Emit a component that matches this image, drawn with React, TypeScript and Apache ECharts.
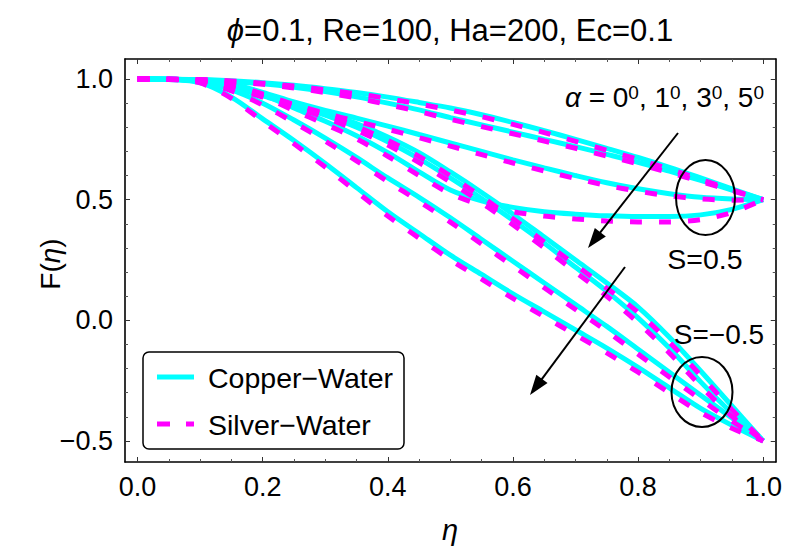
import React, { useEffect, useRef } from "react";
import * as echarts from "echarts";

// η grid
const eta = [0, 0.05, 0.1, 0.15, 0.2, 0.25, 0.3, 0.35, 0.4, 0.45, 0.5, 0.55, 0.6, 0.65, 0.7, 0.75, 0.8, 0.85, 0.9, 0.95, 1.0];

// Copper–Water (solid cyan), S = 0.5, α = 0°, 1°, 3°, 5°
const cuS05a0 = [1, 0.9995, 0.998, 0.993, 0.985, 0.974, 0.96, 0.944, 0.925, 0.903, 0.88, 0.852, 0.82, 0.786, 0.75, 0.713, 0.675, 0.634, 0.59, 0.545, 0.5];
const cuS05a1 = [1, 0.9995, 0.997, 0.99, 0.98, 0.966, 0.948, 0.926, 0.9, 0.872, 0.84, 0.81, 0.78, 0.75, 0.72, 0.688, 0.655, 0.618, 0.58, 0.54, 0.5];
const cuS05a3 = [1, 0.999, 0.995, 0.98, 0.945, 0.905, 0.87, 0.838, 0.805, 0.77, 0.735, 0.7, 0.665, 0.632, 0.6, 0.57, 0.545, 0.525, 0.51, 0.503, 0.5];
const cuS05a5 = [1, 0.999, 0.993, 0.975, 0.935, 0.88, 0.825, 0.765, 0.695, 0.615, 0.54, 0.495, 0.468, 0.45, 0.44, 0.433, 0.43, 0.43, 0.437, 0.46, 0.5];
// Copper–Water, S = -0.5
const cuSm05a0 = [1, 0.999, 0.993, 0.97, 0.935, 0.9, 0.862, 0.815, 0.76, 0.695, 0.615, 0.53, 0.44, 0.345, 0.25, 0.155, 0.055, -0.07, -0.21, -0.355, -0.5];
const cuSm05a1 = [1, 0.999, 0.992, 0.967, 0.93, 0.893, 0.85, 0.8, 0.74, 0.67, 0.59, 0.505, 0.415, 0.32, 0.22, 0.12, 0.01, -0.115, -0.255, -0.385, -0.5];
const cuSm05a3 = [1, 0.999, 0.99, 0.955, 0.9, 0.83, 0.755, 0.675, 0.59, 0.51, 0.425, 0.335, 0.245, 0.155, 0.065, -0.025, -0.12, -0.215, -0.31, -0.405, -0.5];
const cuSm05a5 = [1, 0.998, 0.985, 0.925, 0.835, 0.745, 0.65, 0.55, 0.45, 0.36, 0.27, 0.19, 0.11, 0.035, -0.04, -0.115, -0.195, -0.28, -0.365, -0.435, -0.5];

// Silver–Water (dashed magenta), S = 0.5
const agS05a0 = [1, 0.9995, 0.998, 0.992, 0.983, 0.971, 0.956, 0.939, 0.919, 0.896, 0.872, 0.844, 0.812, 0.778, 0.742, 0.705, 0.667, 0.627, 0.584, 0.541, 0.5];
const agS05a1 = [1, 0.9995, 0.997, 0.989, 0.978, 0.963, 0.944, 0.921, 0.894, 0.865, 0.833, 0.803, 0.773, 0.743, 0.713, 0.681, 0.648, 0.612, 0.575, 0.537, 0.5];
const agS05a3 = [1, 0.999, 0.994, 0.977, 0.938, 0.895, 0.858, 0.825, 0.792, 0.757, 0.722, 0.687, 0.652, 0.619, 0.588, 0.559, 0.535, 0.516, 0.503, 0.498, 0.5];
const agS05a5 = [1, 0.999, 0.992, 0.972, 0.928, 0.87, 0.813, 0.752, 0.68, 0.6, 0.525, 0.478, 0.45, 0.432, 0.42, 0.412, 0.408, 0.408, 0.417, 0.447, 0.5];
// Silver–Water, S = -0.5
const agSm05a0 = [1, 0.999, 0.992, 0.967, 0.93, 0.892, 0.852, 0.803, 0.746, 0.679, 0.598, 0.512, 0.421, 0.325, 0.229, 0.133, 0.033, -0.09, -0.228, -0.37, -0.5];
const agSm05a1 = [1, 0.999, 0.991, 0.964, 0.925, 0.885, 0.84, 0.788, 0.726, 0.654, 0.573, 0.487, 0.396, 0.3, 0.2, 0.1, -0.01, -0.135, -0.272, -0.398, -0.5];
const agSm05a3 = [1, 0.999, 0.989, 0.951, 0.892, 0.82, 0.743, 0.661, 0.575, 0.493, 0.407, 0.316, 0.225, 0.135, 0.045, -0.045, -0.14, -0.235, -0.328, -0.418, -0.5];
const agSm05a5 = [1, 0.998, 0.984, 0.92, 0.825, 0.732, 0.635, 0.533, 0.432, 0.341, 0.251, 0.171, 0.091, 0.015, -0.06, -0.135, -0.215, -0.3, -0.382, -0.447, -0.5];

const copperCurves = [cuS05a0, cuS05a1, cuS05a3, cuS05a5, cuSm05a0, cuSm05a1, cuSm05a3, cuSm05a5];
const silverCurves = [agS05a0, agS05a1, agS05a3, agS05a5, agSm05a0, agSm05a1, agSm05a3, agSm05a5];

const seriesNames = ["Copper\u2212Water", "Silver\u2212Water"];

// ticks
const xMajorTicks = [0, 0.2, 0.4, 0.6, 0.8, 1.0];
const xMinorTicks = [0.05, 0.1, 0.15, 0.25, 0.3, 0.35, 0.45, 0.5, 0.55, 0.65, 0.7, 0.75, 0.85, 0.9, 0.95];
const yMajorTicks = [-0.5, 0, 0.5, 1.0];
const yMinorTicks = [-0.4, -0.3, -0.2, -0.1, 0.1, 0.2, 0.3, 0.4, 0.6, 0.7, 0.8, 0.9];

const XMIN = -0.02, XMAX = 1.02, YMIN = -0.587, YMAX = 1.083;

const FONT = "'Liberation Sans', Arial, sans-serif";
const CYAN = "#00FFFF";
const MAGENTA = "#FF00FF";

function fmt(v: number) {
  return v.toFixed(1).replace("-", "\u2212");
}

function arrow(x1: number, y1: number, x2: number, y2: number) {
  const dx = x2 - x1, dy = y2 - y1;
  const L = Math.sqrt(dx * dx + dy * dy);
  const ux = dx / L, uy = dy / L;
  const hl = 20, hw = 7;
  const bx = x2 - ux * hl, by = y2 - uy * hl;
  const px = -uy, py = ux;
  return [
    { type: "line", z: 100, shape: { x1, y1, x2: bx + ux * 2, y2: by + uy * 2 }, style: { stroke: "#000", lineWidth: 2 } },
    {
      type: "polygon", z: 100,
      shape: { points: [[x2, y2], [bx + px * hw, by + py * hw], [bx - px * hw, by - py * hw]] },
      style: { fill: "#000" },
    },
  ];
}

export default function App() {
  const ref = useRef<HTMLDivElement>(null);
  useEffect(() => {
    if (!ref.current) return;
    const chart = echarts.init(ref.current, null, { renderer: "svg" });
    const grid = { left: 125, top: 59, width: 651, height: 403 };
    const baseX = { type: "value", min: XMIN, max: XMAX, gridIndex: 0, splitLine: { show: false } };
    const baseY = { type: "value", min: YMIN, max: YMAX, gridIndex: 0, splitLine: { show: false } };
    const axisLine = { show: true, onZero: false, lineStyle: { color: "#000", width: 1.6 } };
    const noLine = { show: false, onZero: false };

    const series: any[] = [];
    copperCurves.forEach((c) => {
      series.push({
        type: "line", name: seriesNames[0], data: eta.map((x, i) => [x, c[i]]),
        symbol: "none", smooth: 0.3, silent: true, z: 2,
        lineStyle: { color: CYAN, width: 5 },
      });
    });
    silverCurves.forEach((c) => {
      series.push({
        type: "line", name: seriesNames[1], data: eta.map((x, i) => [x, c[i]]),
        symbol: "none", smooth: 0.3, silent: true, z: 3,
        lineStyle: { color: MAGENTA, width: 5, type: [12, 17], cap: "butt" },
      });
    });

    const textStyle = (extra: any) => ({ fill: "#000", fontFamily: FONT, ...extra });

    const graphic: any[] = [
      // title
      {
        type: "text", x: 450, y: 30, z: 100,
        style: textStyle({
          text: "{i|\u03D5}=0.1, Re=100, Ha=200, Ec=0.1", fontSize: 31, align: "center", verticalAlign: "middle",
          rich: { i: { fontStyle: "italic", fontSize: 31, fontFamily: FONT } },
        }),
      },
      // y axis name
      {
        type: "text", x: 50, y: 264, rotation: Math.PI / 2, z: 100,
        style: textStyle({
          text: "F({i|\u03B7})", fontSize: 28, align: "center", verticalAlign: "middle",
          rich: { i: { fontStyle: "italic", fontSize: 28, fontFamily: FONT } },
        }),
      },
      // x axis name
      {
        type: "text", x: 450, y: 530, z: 100,
        style: textStyle({ text: "\u03B7", fontSize: 29, fontStyle: "italic", align: "center", verticalAlign: "middle" }),
      },
      // alpha annotation
      {
        type: "text", x: 764, y: 97, z: 100,
        style: textStyle({
          text: "{a|\u03B1} = 0{s|0}, 1{s|0}, 3{s|0}, 5{s|0}", fontSize: 28, align: "right", verticalAlign: "middle",
          rich: {
            a: { fontStyle: "italic", fontSize: 28, fontFamily: FONT },
            s: { fontSize: 19, verticalAlign: "top", fontFamily: FONT },
          },
        }),
      },
      { type: "text", x: 705, y: 259, z: 100, style: textStyle({ text: "S=0.5", fontSize: 28.5, align: "center", verticalAlign: "middle" }) },
      { type: "text", x: 719, y: 334, z: 100, style: textStyle({ text: "S=\u22120.5", fontSize: 28, align: "center", verticalAlign: "middle" }) },
      // ellipses
      { type: "ellipse", z: 100, shape: { cx: 705.5, cy: 197.5, rx: 29.5, ry: 37.5 }, style: { fill: "none", stroke: "#000", lineWidth: 2 } },
      { type: "ellipse", z: 100, shape: { cx: 702, cy: 392, rx: 30.5, ry: 35 }, style: { fill: "none", stroke: "#000", lineWidth: 2 } },
      ...arrow(678, 133, 588, 248),
      ...arrow(625, 267, 530, 395),
      // legend
      { type: "rect", z: 100, shape: { x: 143, y: 352, width: 261, height: 97, r: 6 }, style: { fill: "#fff", stroke: "#000", lineWidth: 1.5 } },
      { type: "line", z: 101, shape: { x1: 157, y1: 377, x2: 194, y2: 377 }, style: { stroke: CYAN, lineWidth: 5 } },
      { type: "line", z: 101, shape: { x1: 157, y1: 424, x2: 194, y2: 424 }, style: { stroke: MAGENTA, lineWidth: 5, lineDash: [13, 16] } },
      { type: "text", x: 208, y: 378, z: 101, style: textStyle({ text: seriesNames[0], fontSize: 28.5, align: "left", verticalAlign: "middle" }) },
      { type: "text", x: 208, y: 425, z: 101, style: textStyle({ text: seriesNames[1], fontSize: 28.5, align: "left", verticalAlign: "middle" }) },
    ];

    chart.setOption({
      animation: false,
      backgroundColor: "#fff",
      grid,
      xAxis: [
        {
          ...baseX, position: "bottom", axisLine,
          axisTick: { show: true, inside: true, length: 5, customValues: xMajorTicks, lineStyle: { color: "#333", width: 1 } },
          axisLabel: { show: true, customValues: xMajorTicks, formatter: (v: number) => fmt(v), fontSize: 27, fontFamily: FONT, color: "#000", margin: 11 },
        },
        {
          ...baseX, position: "bottom", axisLine: noLine,
          axisTick: { show: true, inside: true, length: 3, customValues: xMinorTicks, lineStyle: { color: "#555", width: 1 } },
          axisLabel: { show: false },
        },
        {
          ...baseX, position: "top", axisLine,
          axisTick: { show: true, inside: true, length: 5, customValues: xMajorTicks, lineStyle: { color: "#333", width: 1 } },
          axisLabel: { show: false },
        },
        {
          ...baseX, position: "top", axisLine: noLine,
          axisTick: { show: true, inside: true, length: 3, customValues: xMinorTicks, lineStyle: { color: "#555", width: 1 } },
          axisLabel: { show: false },
        },
      ],
      yAxis: [
        {
          ...baseY, position: "left", axisLine,
          axisTick: { show: true, inside: true, length: 5, customValues: yMajorTicks, lineStyle: { color: "#333", width: 1 } },
          axisLabel: { show: true, customValues: yMajorTicks, formatter: (v: number) => fmt(v), fontSize: 27, fontFamily: FONT, color: "#000", margin: 12 },
        },
        {
          ...baseY, position: "left", axisLine: noLine,
          axisTick: { show: true, inside: true, length: 3, customValues: yMinorTicks, lineStyle: { color: "#555", width: 1 } },
          axisLabel: { show: false },
        },
        {
          ...baseY, position: "right", axisLine,
          axisTick: { show: true, inside: true, length: 5, customValues: yMajorTicks, lineStyle: { color: "#333", width: 1 } },
          axisLabel: { show: false },
        },
        {
          ...baseY, position: "right", axisLine: noLine,
          axisTick: { show: true, inside: true, length: 3, customValues: yMinorTicks, lineStyle: { color: "#555", width: 1 } },
          axisLabel: { show: false },
        },
      ],
      series,
      graphic,
    });
    return () => chart.dispose();
  }, []);
  return <div ref={ref} style={{ position: "absolute", left: 0, top: 0, width: 785, height: 548 }} />;
}
